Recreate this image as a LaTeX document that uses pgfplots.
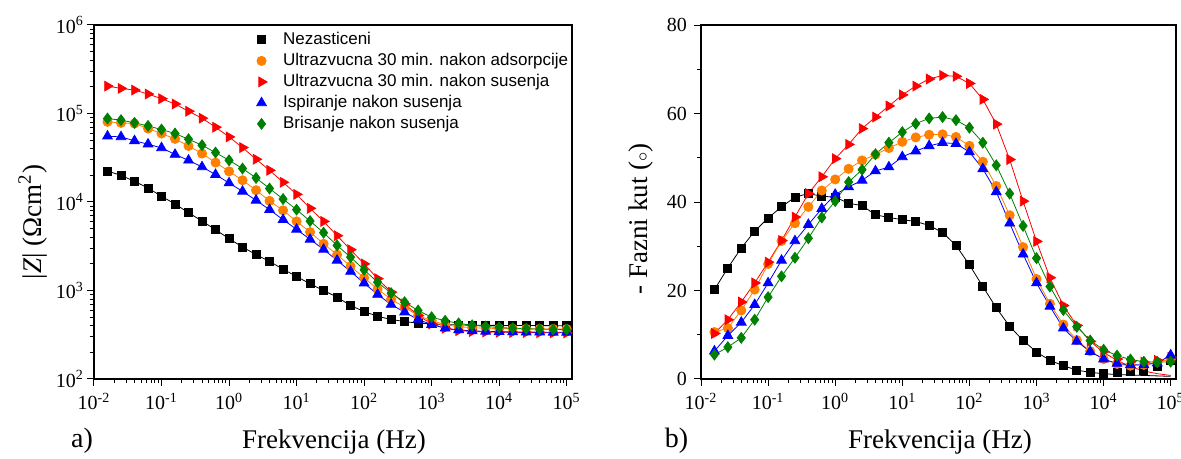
\documentclass[border=0pt]{standalone}
\usepackage{pgfplots}
\pgfplotsset{compat=1.18}
\usepackage{pgfplotstable}
\usepackage{fontspec}
\setmainfont{Liberation Serif}
\newfontfamily\arialfont{Liberation Sans}
\definecolor{corange}{RGB}{255,128,0}
\definecolor{cgreen}{RGB}{0,128,0}

\pgfplotstableread{
f Z0 Z1 Z2 Z3 Z4
0.01585 22400 80500 204000 55400 87700
0.02512 20000 78400 192000 54400 84100
0.03981 17100 77000 184000 49100 78400
0.06310 14400 67600 166000 45000 72400
0.1 11600 59400 147000 40900 65900
0.1585 9500 51700 128000 34400 59400
0.2512 7560 43000 106000 29600 51200
0.3981 6090 35300 88500 24900 43800
0.6310 4860 27900 70000 20400 36200
1 3850 22200 54400 16400 29600
1.585 3100 17600 41200 13200 23900
2.512 2540 13600 30400 10450 18700
3.981 2130 10300 22800 8190 14200
6.310 1740 8050 16700 6310 10800
10 1440 6040 12200 4910 8190
15.85 1190 4570 8480 3780 6090
25.12 1000 3370 6040 2910 4500
39.81 840 2540 4160 2190 3230
63.10 677 1880 2890 1640 2380
100 578 1390 2000 1210 1710
158.5 512 1035 1360 901 1240
251.2 470 798 958 695 933
398.1 446 647 706 569 738
631.0 427 521 521 470 594
1000 420 457 420 412 499
1585 412 412 375 375 455
2512 408 390 352 358 425
3981 405 380 344 350 405
6310 404 375 340 345 392
10000 403 372 338 342 382
15850 402 370 336 340 375
25120 402 369 335 339 370
39810 401 368 334 338 366
63100 401 368 333 337 363
100000 400 367 332 337 360
}\zdata

% measured phase (P) and the fitted lines drawn through them (L0, L2)
\pgfplotstableread{
f P0 P1 P2 P3 P4 L0 L2
0.01585 20.2 10.6 10.3 6.3 5.5 20.2 10.3
0.02512 25.1 11.5 13.4 9.8 7.2 25.1 13.4
0.03981 29.6 15.5 17.4 12.8 9.3 29.6 17.4
0.06310 33.4 20.2 21.7 16.8 13.4 33.4 21.7
0.1 36.4 26.0 26.4 21.7 18.5 36.4 26.4
0.1585 38.9 31.2 31.3 26.8 23.2 38.9 31.3
0.2512 41.1 35.2 36.6 31.2 27.4 41.1 36.6
0.3981 41.9 38.9 41.9 34.9 31.8 41.9 41.9
0.6310 41.3 42.6 45.7 38.5 36.5 41.3 45.7
1 41.1 45.1 49.8 41.7 40.2 41.1 49.8
1.585 39.7 47.5 53.0 43.4 44.5 39.7 53.0
2.512 39.2 49.4 56.6 44.9 47.3 39.2 56.6
3.981 37.1 50.7 59.2 47.0 50.8 37.1 59.2
6.310 36.5 52.2 61.7 47.9 53.4 36.5 61.7
10 36.0 53.6 64.2 50.2 55.8 36.0 64.2
15.85 35.6 54.6 66.2 51.5 57.7 35.6 66.2
25.12 34.7 55.2 67.8 52.7 58.9 34.7 67.8
39.81 33.1 55.3 68.6 53.4 59.2 33.1 68.6
63.10 30.2 54.7 68.4 53.2 58.5 30.2 68.4
100 25.8 52.7 66.8 51.3 56.8 25.8 66.8
158.5 20.9 49.1 63.2 47.5 53.4 20.9 63.2
251.2 16.1 43.6 57.6 42.3 48.3 16.1 57.6
398.1 11.9 37.0 49.6 35.2 41.9 11.9 49.6
631.0 8.7 29.8 40.2 28.2 34.6 8.7 40.2
1000 6.1 22.6 31.1 21.7 27.3 6.1 31.1
1585 4.2 17.0 22.9 16.4 20.9 4.2 22.9
2512 3.0 12.3 16.6 11.5 15.6 3.0 16.6
3981 2.0 8.8 12.1 8.5 11.8 2.0 12.1
6310 1.5 6.3 8.5 6.2 8.7 1.5 8.5
10000 1.3 4.5 6.2 4.5 6.6 1.2 6.0
15850 1.4 3.4 4.5 3.5 5.3 1.0 4.2
25120 1.7 3.0 3.9 3.2 4.4 0.9 2.8
39810 1.9 3.2 3.8 3.2 3.9 0.8 1.8
63100 2.8 3.8 4.2 3.6 3.8 0.7 1.2
100000 4.3 4.5 4.9 5.4 3.9 0.6 0.8
}\pdata

\pgfplotsset{
  every axis/.append style={
    scale only axis,
    xmode=log, xmin=0.01, xmax=1.2e5,
    axis line style={line width=0.7pt},
    tick align=outside,
    xtick pos=bottom, ytick pos=left,
    major tick length=3.5pt, minor tick length=2pt,
    every tick/.style={black, line width=0.5pt},
    xtick={0.01,0.1,1,10,100,1000,10000,100000},
    xticklabels={10\textsuperscript{-2},10\textsuperscript{-1},10\textsuperscript{0},10\textsuperscript{1},10\textsuperscript{2},10\textsuperscript{3},10\textsuperscript{4},10\textsuperscript{5}},
    minor xtick={0.02,0.03,0.04,0.05,0.06,0.07,0.08,0.09,0.2,0.3,0.4,0.5,0.6,0.7,0.8,0.9,2,3,4,5,6,7,8,9,20,30,40,50,60,70,80,90,200,300,400,500,600,700,800,900,2000,3000,4000,5000,6000,7000,8000,9000,20000,30000,40000,50000,60000,70000,80000,90000},
    ticklabel style={font=\fontsize{10}{12}\selectfont},
    label style={font=\fontsize{13.5}{16}\selectfont},
  },
  s0/.style={black, line width=0.4pt, mark=square*, mark size=2pt, mark options={solid}},
  s1/.style={corange, line width=0.4pt, mark=*, mark size=2.3pt, mark options={solid}},
  s2/.style={red, line width=0.4pt, mark=triangle*, mark size=2.8pt, mark options={solid, rotate=-90}},
  s3/.style={blue, line width=0.4pt, mark=triangle*, mark size=2.8pt, mark options={solid}},
  s4/.style={cgreen, line width=0.4pt, mark=diamond*, mark size=2.7pt, mark options={solid}},
}

\begin{document}
\begin{tikzpicture}
\begin{axis}[
  at={(47pt,40pt)}, anchor=south west,
  width=239pt, height=177pt,
  ymode=log, ymin=100, ymax=1e6,
  ytick={100,1000,10000,100000,1000000},
  yticklabels={10\textsuperscript{2},10\textsuperscript{3},10\textsuperscript{4},10\textsuperscript{5},10\textsuperscript{6}},
  yticklabel style={xshift=2pt},
  minor ytick={200,300,400,500,600,700,800,900,2000,3000,4000,5000,6000,7000,8000,9000,20000,30000,40000,50000,60000,70000,80000,90000,200000,300000,400000,500000,600000,700000,800000,900000},
  xlabel={Frekvencija (Hz)},
  xlabel style={at={(axis description cs:0.502,-0.195)}, anchor=base},
  ylabel={{|}\textit{Z}{|} (Ωcm\textsuperscript{2})},
  ylabel style={at={(axis description cs:-0.128,0.4435)}, anchor=center},
  legend style={draw=none, fill=none, at={(axis description cs:0.327,1.0)}, anchor=north west,
    font=\arialfont\fontsize{8.5}{10}\selectfont,
    nodes={inner ysep=0.5pt, text height=7pt, text depth=2.5pt},
    /tikz/every odd column/.append style={column sep=6pt},
    row sep=0pt},
  legend cell align=left,
]
\addlegendimage{only marks, s0}
\addlegendimage{only marks, s1}
\addlegendimage{only marks, s2}
\addlegendimage{only marks, s3}
\addlegendimage{only marks, s4}
\legend{Nezasticeni, Ultrazvucna 30 min. nakon adsorpcije, Ultrazvucna 30 min. nakon susenja, Ispiranje nakon susenja, Brisanje nakon susenja}
\addplot[s0, forget plot] table[x=f, y=Z0] {\zdata};
\addplot[s1, forget plot] table[x=f, y=Z1] {\zdata};
\addplot[s2, forget plot] table[x=f, y=Z2] {\zdata};
\addplot[s3, forget plot] table[x=f, y=Z3] {\zdata};
\addplot[s4, forget plot] table[x=f, y=Z4] {\zdata};
\end{axis}

\begin{axis}[
  at={(350.5pt,40pt)}, anchor=south west,
  width=237.5pt, height=177pt,
  ymin=0, ymax=80,
  ytick={0,20,40,60,80},
  minor ytick={10,30,50,70},
  yticklabel style={/pgf/number format/assume math mode=true},
  xlabel={Frekvencija (Hz)},
  xlabel style={at={(axis description cs:0.503,-0.195)}, anchor=base},
  ylabel={- Fazni kut ($\scriptstyle\circ$)},
  ylabel style={at={(axis description cs:-0.126,0.452)}, anchor=center},
]
\addplot[black, line width=0.4pt, no marks] table[x=f, y=L0] {\pdata};
\addplot[red, line width=0.4pt, no marks] table[x=f, y=L2] {\pdata};
\addplot[s0, only marks] table[x=f, y=P0] {\pdata};
\addplot[s1] table[x=f, y=P1] {\pdata};
\addplot[s2, only marks] table[x=f, y=P2] {\pdata};
\addplot[s3] table[x=f, y=P3] {\pdata};
\addplot[s4] table[x=f, y=P4] {\pdata};
\end{axis}

\node[anchor=base, font=\fontsize{14}{16}\selectfont] at (41pt,5.5pt) {a)};
\node[anchor=base, font=\fontsize{14}{16}\selectfont] at (338.25pt,5.5pt) {b)};

\pgfresetboundingbox
\path[use as bounding box] (0pt,0pt) rectangle (590.5pt,229.5pt);
\end{tikzpicture}
\end{document}
